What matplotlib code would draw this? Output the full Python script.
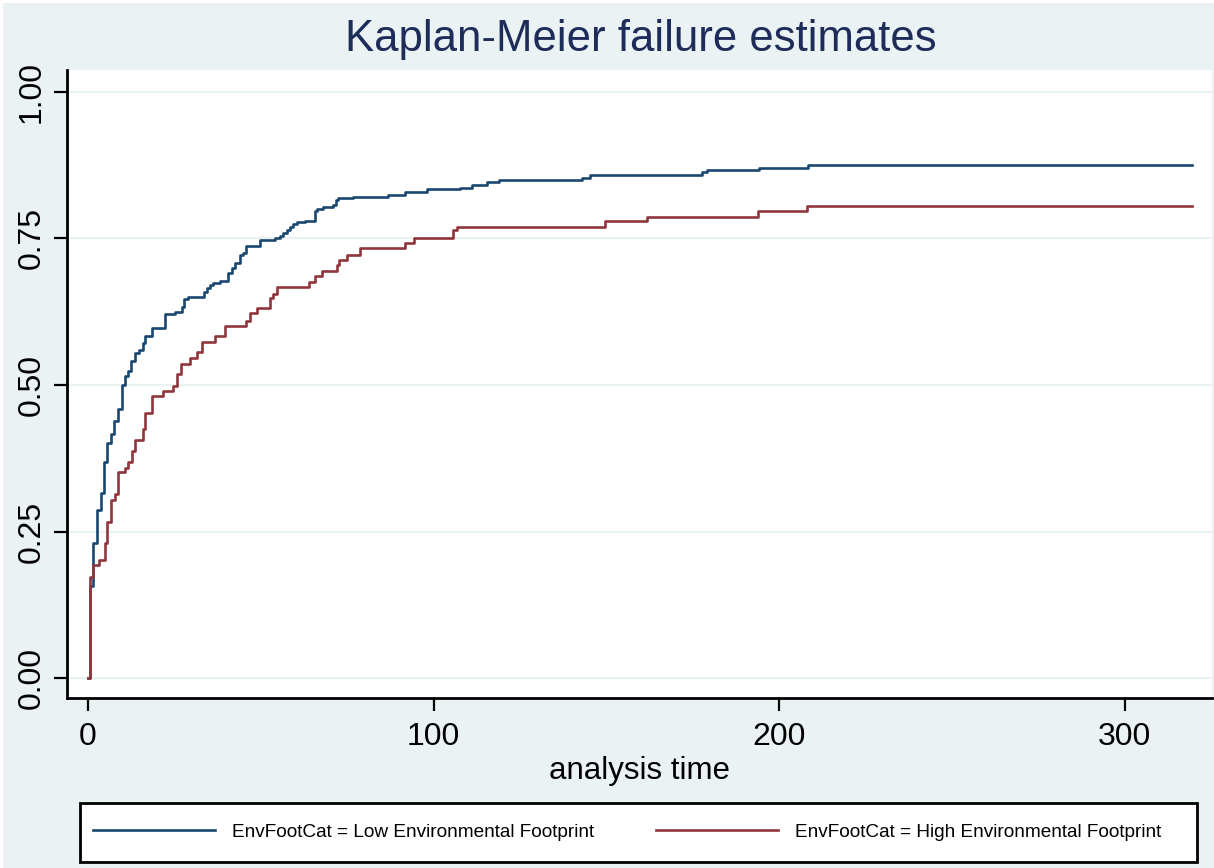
import matplotlib
matplotlib.use("Agg")
import matplotlib.pyplot as plt
from matplotlib.patches import Rectangle

plt.rcParams['font.family'] = ['Liberation Sans', 'DejaVu Sans']

# ---- data ----
low_t = [0, 0.6, 1.54, 2.51, 3.67, 4.73, 5.40, 6.56, 7.62, 8.78, 9.74, 10.71, 11.67,
         12.54, 13.70, 14.66, 15.82, 16.59, 18.43, 22.29, 25.18, 27.11, 27.79, 29.04,
         33.57, 34.35, 35.31, 36.28, 38.21, 40.62, 41.58, 42.55, 44.0, 44.96, 45.73,
         49.8, 54.1, 55.6, 56.5, 57.5, 58.3, 59.4, 60.4, 62.8, 65.7, 66.2, 68.1, 71.0,
         71.8, 72.2, 76.8, 86.9, 91.8, 98.0, 107.7, 111.0, 115.4, 119.0, 142.9, 145.3,
         177.6, 179.1, 194.3, 208.5, 319.4]
low_f = [0, 0.157, 0.230, 0.286, 0.315, 0.368, 0.401, 0.417, 0.438, 0.459, 0.500, 0.515,
         0.524, 0.541, 0.554, 0.560, 0.572, 0.584, 0.597, 0.621, 0.625, 0.633, 0.646,
         0.650, 0.659, 0.666, 0.671, 0.674, 0.677, 0.691, 0.700, 0.709, 0.721, 0.725,
         0.738, 0.747, 0.750, 0.754, 0.759, 0.765, 0.770, 0.775, 0.778, 0.780, 0.797,
         0.800, 0.803, 0.807, 0.816, 0.819, 0.821, 0.825, 0.830, 0.834, 0.837, 0.842,
         0.846, 0.850, 0.854, 0.859, 0.863, 0.867, 0.871, 0.875, 0.875]

high_t = [0, 0.58, 1.54, 3.28, 4.92, 5.60, 6.56, 7.81, 8.78, 10.71, 11.67, 12.64, 13.70,
          15.82, 16.59, 18.62, 21.80, 24.70, 25.66, 26.82, 29.52, 31.64, 32.90, 36.76,
          39.65, 45.73, 46.9, 48.8, 52.7, 53.6, 54.6, 63.8, 65.7, 67.6, 72.0, 72.7, 74.9,
          78.7, 91.8, 94.2, 105.7, 106.9, 149.6, 161.7, 194.0, 208.0, 319.4]
high_f = [0, 0.173, 0.192, 0.202, 0.230, 0.267, 0.304, 0.314, 0.351, 0.359, 0.368, 0.387,
          0.406, 0.425, 0.452, 0.482, 0.490, 0.499, 0.518, 0.536, 0.546, 0.556, 0.574,
          0.583, 0.601, 0.610, 0.622, 0.631, 0.648, 0.656, 0.668, 0.676, 0.686, 0.695,
          0.705, 0.713, 0.721, 0.733, 0.742, 0.751, 0.765, 0.770, 0.780, 0.787, 0.797,
          0.806, 0.806]

labels = ["EnvFootCat = Low Environmental Footprint",
          "EnvFootCat = High Environmental Footprint"]
xticks = [0, 100, 200, 300]
yticks = [0.0, 0.25, 0.5, 0.75, 1.0]
ytick_labels = ["0.00", "0.25", "0.50", "0.75", "1.00"]

BG = "#EAF2F3"
BLUE = "#1A476F"
RED = "#90353B"

W, H = 1214, 868
fig = plt.figure(figsize=(W / 100, H / 100), dpi=100, facecolor="white")
fig.patches.append(Rectangle((3 / W, 0), 1 - 3 / W, 1 - 3 / H, transform=fig.transFigure,
                             facecolor=BG, edgecolor="none", zorder=-10))
# legend frame
fig.patches.append(Rectangle((80 / W, 1 - 862 / H), (1197 - 80) / W, (862 - 803) / H,
                             transform=fig.transFigure, facecolor="white",
                             edgecolor="black", lw=2, zorder=-5))

L, R, T, B = 67, 1212, 70, 698
ax = fig.add_axes([L / W, 1 - B / H, (R - L) / W, (B - T) / H])
ax.set_facecolor("white")

ax.plot(low_t, low_f, drawstyle="steps-post", color=BLUE, lw=1.9, label=labels[0], zorder=3)
ax.plot(high_t, high_f, drawstyle="steps-post", color=RED, lw=1.9, label=labels[1], zorder=4)

ax.set_xlim(-6.1, 325.3)
ax.set_ylim(-0.0341, 1.0375)
ax.set_xticks(xticks)
ax.set_yticks(yticks)
ax.set_yticklabels(ytick_labels, rotation=90, va="center")
ax.tick_params(axis="both", direction="out", length=9.5, width=1.6, labelsize=23,
               colors="black")
ax.tick_params(axis="x", pad=8)
ax.tick_params(axis="y", pad=5)
ax.grid(axis="y", color=BG, lw=1.6, zorder=1)
ax.set_axisbelow(True)
for s in ["top", "right"]:
    ax.spines[s].set_visible(False)
for s in ["left", "bottom"]:
    ax.spines[s].set_linewidth(2)
    ax.spines[s].set_color("black")

ax.set_xlabel("analysis time", fontsize=22.5, labelpad=3)

fig.text(0.5 * (343 + 938) / W, 1 - 40 / H, "Kaplan-Meier failure estimates",
         ha="center", va="center", fontsize=31.5, color="#1E2C5A")

fs = 13.7
em = fs * 100 / 72
leg = fig.legend(loc="center left", ncol=2,
                 bbox_to_anchor=(93 / W, 1 - 832 / H),
                 fontsize=fs, handlelength=122 / em, handletextpad=17 / em,
                 columnspacing=62 / em, borderpad=0, borderaxespad=0,
                 frameon=False)
for line in leg.get_lines():
    line.set_linewidth(1.9)

fig.savefig("out.png", dpi=100, facecolor="white")
